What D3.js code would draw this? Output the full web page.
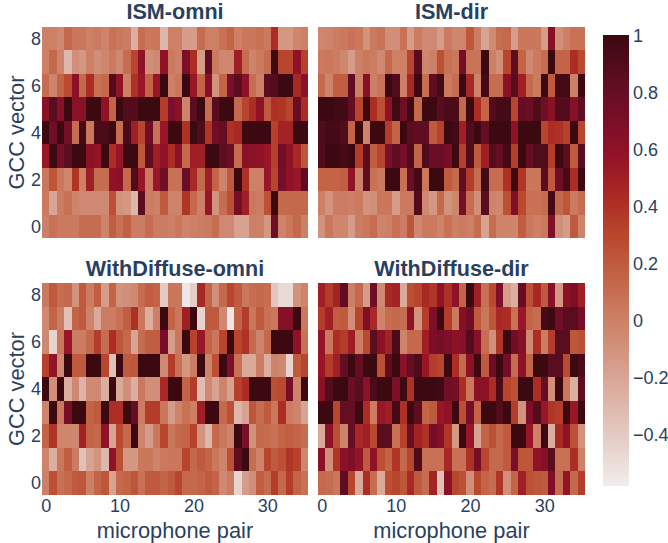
<!DOCTYPE html>
<html>
<head>
<meta charset="utf-8">
<script src="https://cdn.jsdelivr.net/npm/d3@7"></script>
<style>
  html, body { margin: 0; padding: 0; background: #fff; }
  svg { display: block; }
  text { font-family: "Liberation Sans", Arial, sans-serif; fill: #2a3f5f; }
</style>
</head>
<body>
<svg id="chart" width="668" height="543"></svg>
<script>
// ----- data, rows listed top to bottom (GCC vector 8 down to 0) -----
var rowLabels = [8, 7, 6, 5, 4, 3, 2, 1, 0];
var xTicks = [0, 10, 20, 30];
var yTicks = [0, 2, 4, 6, 8];
var barTicks = [1, 0.8, 0.6, 0.4, 0.2, 0, -0.2, -0.4];
var titles = ["ISM-omni", "ISM-dir", "WithDiffuse-omni", "WithDiffuse-dir"];
var ampColors = ["#f1ecec", "#e6d1cb", "#ddb6aa", "#d59c89", "#cd8167", "#c46649", "#ba4a2f", "#ac2c24", "#951327", "#780e28", "#590d1f", "#3c0911"];

var ismOmni = [
  [0,0,-.05,.12,.05,.05,0,.03,-.02,.08,.05,.02,-.25,.1,.05,.05,-.3,0,0,-.15,-.15,.1,0,0,.08,.15,0,.05,.05,.08,.03,.42,-.12,-.12,-.03,0],
  [0,.12,-.02,-.3,-.08,-.12,0,-.08,-.03,.03,-.05,.1,.3,.6,-.08,-.05,.6,.03,0,.68,.42,-.15,.82,.03,-.04,-.04,.5,.1,-.02,.03,.1,.98,.3,.3,.6,.33],
  [.1,-.02,.15,.28,.62,.12,.42,.08,.13,.88,.6,0,.4,.55,.15,.55,1,0,.05,1,.55,.15,.65,-.1,.15,.7,.85,.6,.1,0,.85,.88,1,1,.45,.62],
  [.62,.85,.65,1,.62,.62,1,1,.6,.15,1,.88,.88,1,1,1,.35,.7,.62,-.02,.85,1,.1,.85,1,1,.12,.3,.42,.6,.2,.4,.38,.3,.78,.42],
  [1,.75,1,.72,.1,.95,.05,.92,.92,1,.1,.92,.5,.3,.75,.08,.55,1,1,.4,1,.9,.38,.75,.8,.4,.45,1,1,1,1,.33,.48,.48,1,1],
  [.55,1,.72,.85,1,1,.62,.58,1,.42,.58,1,1,.22,.82,.5,.6,.42,.62,.12,.5,.5,1,1,.82,.78,.1,.62,.62,.6,.55,.33,.75,.6,.45,.22],
  [.05,.22,.05,-.03,.38,0,.5,.1,.1,.6,.62,.12,.9,.55,.03,.55,.75,.08,.08,.78,.45,.12,.5,.15,-.02,.2,1,.4,0,0,.55,.3,.72,.6,.55,.82],
  [.03,-.2,.02,.08,-.02,-.05,-.05,-.05,-.05,.25,-.1,-.12,-.3,.85,.02,0,.2,-.02,-.02,.38,.13,0,.55,-.1,.1,.25,.72,.5,.05,.02,.25,1,.12,.12,.12,.12],
  [0,.08,.03,.03,.03,.1,.1,.1,-.02,.18,.08,.16,.02,.02,.1,.02,.02,0,.05,-.02,0,.02,.03,.1,-.05,-.05,-.18,-.18,0,0,-.12,.75,-.02,.05,.12,0]
];
var ismDir = [
  [-.03,-.02,.02,.04,.07,.05,-.1,.03,.07,-.08,-.08,.08,-.15,.02,-.05,-.05,-.15,.03,-.03,-.03,.22,.02,-.2,-.06,.1,.13,-.15,.05,.05,.05,-.15,.65,-.08,0,.08,.07],
  [.03,.05,.02,-.03,-.15,0,.05,.02,-.05,.12,0,0,.3,.85,-.03,0,.25,.08,.05,.72,.07,.07,1,0,-.08,.3,.82,.15,-.05,.03,.1,1,.15,.15,.42,.28],
  [.12,-.02,.18,.18,.82,0,.65,0,.07,1,.9,0,.45,1,.1,.82,.95,.03,.1,1,.45,-.02,.95,.1,.1,.62,.85,.5,.12,.03,1,.2,.95,.95,0,1],
  [1,1,.97,.97,.8,.3,1,.42,.25,.6,.98,.75,.98,.12,1,1,.85,.92,.92,.12,1,.42,.15,.88,.95,.95,.3,.8,.78,.9,.75,.62,.88,.88,.65,.82],
  [.9,.95,.95,.9,.15,1,-.02,1,1,.35,.15,1,.85,.82,.82,.2,.32,1,.95,.5,.88,1,.8,1,1,1,.6,1,1,1,.3,.42,.4,.32,1,.3],
  [.9,1,1,.95,1,.35,.85,.18,.3,.7,.82,.72,.9,.15,.9,.78,.78,.72,1,.33,.9,.2,.5,.88,.8,.95,.33,1,.8,.9,.9,.35,1,.85,.2,.85],
  [.15,.15,.15,.18,.6,0,.82,.08,.03,1,1,.08,.78,.95,.05,1,1,.2,.12,.82,.35,.1,.95,.1,.1,.4,1,.38,.05,.05,.85,.2,.75,.95,.42,1],
  [0,-.1,.02,.02,0,.03,-.1,-.08,.05,.05,-.15,.03,.03,.88,-.05,-.12,.12,-.1,-.03,.72,.1,-.08,.85,-.02,-.04,.25,.68,.28,.08,.08,.1,.95,.12,.22,.03,.1],
  [-.1,.05,-.03,-.03,-.15,.02,.05,.1,-.02,0,.08,.02,.22,-.05,.03,.03,-.02,.08,0,.03,0,.1,-.18,.1,-.02,-.02,-.03,.18,.05,0,.05,.68,-.08,-.15,.2,-.02]
];
var diffuseOmni = [
  [.03,.2,.1,.12,-.1,.2,.02,.18,-.15,.15,-.1,-.08,-.05,.1,.18,.15,-.4,.05,.05,-.55,-.42,.45,.15,-.08,.12,.3,.2,.05,.1,.12,.1,-.38,-.48,-.48,-.1,-.02],
  [-.05,.15,.02,-.35,.15,.2,-.02,-.22,.02,.02,.08,.18,.4,.05,-.25,0,1,.15,.05,.5,1,-.45,.2,.2,-.05,-.55,.15,.35,.05,.2,.08,.05,.65,.65,1,.05],
  [-.05,-.45,.05,.55,.02,.02,.12,.35,.1,.42,.22,.12,-.2,.1,.18,.18,.72,-.15,.05,1,.32,.55,.15,.05,.3,1,.3,.4,.12,-.02,.12,1,1,1,.6,.08],
  [.32,.58,-.05,1,.2,.2,1,1,.3,-.35,1,.2,.22,1,1,1,-.05,.35,.08,-.12,.02,1,-.02,.25,1,.7,.08,-.22,-.22,.02,-.25,-.02,-.05,-.45,.2,.3],
  [1,-.08,1,-.25,-.05,-.28,-.05,-.05,-.25,1,-.22,-.08,-.25,.05,-.08,-.08,.45,1,1,.15,.35,-.32,-.05,-.18,-.02,-.18,.32,.42,1,1,1,.25,.28,.72,-.02,1],
  [-.02,1,.05,.72,1,1,.15,.2,1,.42,.42,1,.8,.02,.35,.35,.05,-.15,-.02,.08,0,.5,1,1,.12,.25,-.3,-.18,.22,.1,.2,.05,.42,.02,-.02,-.2],
  [.15,.38,-.03,-.03,-.05,.48,.15,.12,.6,-.2,.28,.12,1,-.02,-.15,.05,.3,.05,.12,.15,.32,-.1,-.3,.12,.05,-.02,1,.7,-.1,.12,.1,.08,.15,.18,.15,.1],
  [-.02,-.25,.05,.18,.02,-.35,-.18,-.1,-.3,.6,.25,-.12,-.12,.05,.05,-.02,.03,.05,.05,.3,.12,.2,.15,.05,-.02,.25,.82,1,.1,-.02,.3,.2,.25,.38,.32,-.03],
  [0,.25,.08,.12,.2,.22,0,.15,.22,-.18,.12,.15,.22,.08,.2,.2,.15,.2,.3,.12,.12,.15,.2,.15,-.05,.02,-.45,-.15,-.08,.18,.1,.35,.12,.35,.15,.08]
];
var diffuseDir = [
  [.5,.35,.48,.82,0,.12,-.15,.75,-.05,.45,.48,-.22,.25,.3,.45,.38,.6,.4,.6,.15,1,.5,.08,.28,.68,-.15,-.25,.8,.25,.45,.2,.65,-.12,.62,.68,.5],
  [.35,.5,.18,.2,-.08,.3,.68,.45,-.02,.1,.12,.1,.6,-.1,.35,.68,1,.35,.03,.65,.75,.2,.05,.22,.45,.42,.08,.55,.15,.1,.95,1,.75,.85,.85,.72],
  [.58,.05,.42,.35,.52,.02,.28,.85,.62,.48,.92,-.02,.12,.12,.5,.7,.72,.68,.62,.65,.88,.65,.1,-.08,.38,1,.75,.65,-.05,.42,.02,.35,.85,.85,.22,.25],
  [.55,.35,.5,.8,1,.8,1,1,.25,.82,1,.62,.8,.9,.55,.35,.3,1,.42,.12,.62,1,.2,.78,1,.72,.1,.6,.15,1,1,.85,.85,.28,1,.92],
  [.62,.88,1,1,.78,.85,.62,.92,1,1,.68,1,.4,1,1,1,.98,.75,.72,.42,.05,.62,.62,.42,.92,.3,.25,1,1,.42,.8,-.08,1,.05,-.25,.82],
  [1,1,.3,.8,.8,1,.42,.02,.55,.5,.95,.4,1,.82,.15,.2,.55,.6,1,.25,.72,.15,1,1,.88,1,.35,-.1,.68,.88,.55,.38,.35,1,.55,1],
  [-.22,.6,.25,-.02,.8,.45,.5,.28,.85,.85,.08,.32,.78,.48,.4,.72,.65,.38,-.12,1,.55,-.2,.15,.25,.12,.2,1,1,.55,0,1,-.25,.45,.6,.25,-.1],
  [.62,-.08,.38,.62,.68,.58,.2,.6,.25,.15,.38,.12,.3,.9,.08,.08,.08,.45,.08,.08,.4,.72,.3,.12,.12,.2,.7,.22,.22,.6,.65,.85,.08,.08,.42,0],
  [.12,.1,.05,.82,.3,-.22,.42,.1,-.22,.25,.3,.22,.45,.2,.1,.48,-.35,.62,.3,.25,-.08,.28,.15,.1,.38,-.08,.15,.5,.25,.22,.2,.68,.1,.58,.12,.35]
];
var panels = [ismOmni, ismDir, diffuseOmni, diffuseDir];

// ----- layout -----
var colX = [[42, 308], [318, 585]];
var rowY = [[27, 238], [283, 495]];
var titleY = [19, 276];
var zMin = -0.58, zMax = 1;

var svg = d3.select("#chart");

var colorScale = d3.scaleLinear()
  .domain(ampColors.map(function(c, i) { return zMin + (zMax - zMin) * i / (ampColors.length - 1); }))
  .range(ampColors);

// ----- heatmaps -----
panels.forEach(function(z, p) {
  var col = p % 2, row = Math.floor(p / 2);
  var x = d3.scaleLinear().domain([-0.5, 35.5]).range(colX[col]);
  var y = d3.scaleLinear().domain([-0.5, 8.5]).range([rowY[row][1], rowY[row][0]]);
  var g = svg.append("g").attr("class", "panel");

  var cells = [];
  z.forEach(function(vals, r) {
    vals.forEach(function(v, c) { cells.push({ c: c, r: rowLabels[r], v: v }); });
  });

  g.selectAll("rect")
    .data(cells)
    .enter()
    .append("rect")
      .attr("x", function(d) { return x(d.c - 0.5); })
      .attr("y", function(d) { return y(d.r + 0.5); })
      .attr("width", function(d) { return x(d.c + 0.5) - x(d.c - 0.5); })
      .attr("height", function(d) { return y(d.r - 0.5) - y(d.r + 0.5); })
      .attr("shape-rendering", "crispEdges")
      .attr("fill", function(d) { return colorScale(d.v); });

  // title
  g.append("text")
    .text(titles[p])
    .attr("x", (colX[col][0] + colX[col][1]) / 2)
    .attr("y", titleY[row])
    .attr("text-anchor", "middle")
    .attr("font-weight", "bold")
    .attr("font-size", 21.6);

  // x axis, bottom row only
  if (row === 1) {
    var xAxis = g.append("g")
      .attr("transform", "translate(0," + rowY[row][1] + ")")
      .call(d3.axisBottom(x).tickValues(xTicks).tickSize(0).tickPadding(4).tickFormat(d3.format("d")));
    xAxis.select(".domain").remove();
    xAxis.selectAll("text").attr("font-size", 18).attr("fill", null);
    g.append("text")
      .text("microphone pair")
      .attr("x", (colX[col][0] + colX[col][1]) / 2)
      .attr("y", 538)
      .attr("text-anchor", "middle")
      .attr("font-size", 21.8);
  }

  // y axis, left column only
  if (col === 0) {
    var yAxis = g.append("g")
      .attr("transform", "translate(" + colX[col][0] + ",0)")
      .call(d3.axisLeft(y).tickValues(yTicks).tickSize(0).tickPadding(1).tickFormat(d3.format("d")));
    yAxis.select(".domain").remove();
    yAxis.selectAll("text").attr("font-size", 18).attr("fill", null);
    g.append("text")
      .text("GCC vector")
      .attr("transform", "translate(23.5," + (rowY[row][0] + rowY[row][1]) / 2 + ") rotate(-90)")
      .attr("text-anchor", "middle")
      .attr("font-size", 21.8);
  }
});

// ----- colorbar -----
var barX = 603, barW = 26, barTop = 35, barBottom = 486;
var defs = svg.append("defs");
var grad = defs.append("linearGradient")
  .attr("id", "ampGrad")
  .attr("x1", 0).attr("y1", 1).attr("x2", 0).attr("y2", 0);
grad.selectAll("stop")
  .data(ampColors)
  .enter()
  .append("stop")
    .attr("offset", function(d, i) { return i / (ampColors.length - 1); })
    .attr("stop-color", function(d) { return d; });

svg.append("rect")
  .attr("x", barX).attr("y", barTop)
  .attr("width", barW).attr("height", barBottom - barTop)
  .attr("fill", "url(#ampGrad)");

var barScale = d3.scaleLinear().domain([zMin, zMax]).range([barBottom, barTop + 1]);
var barAxis = svg.append("g")
  .attr("transform", "translate(" + (barX + barW) + ",0)")
  .call(d3.axisRight(barScale).tickValues(barTicks).tickSize(0).tickPadding(4)
    .tickFormat(function(d) { return d3.format("")(d).replace("-", "\u2212"); }));
barAxis.select(".domain").remove();
barAxis.selectAll("text").attr("font-size", 18).attr("fill", null);
</script>
</body>
</html>
